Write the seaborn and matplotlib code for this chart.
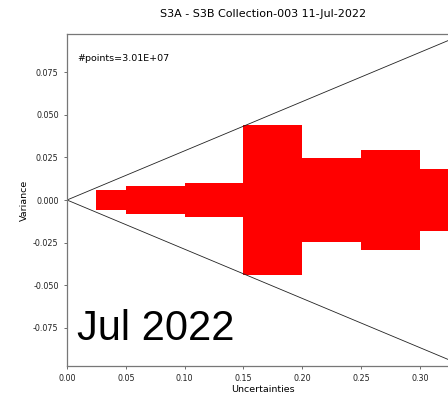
import numpy as np
import pandas as pd
import matplotlib
matplotlib.use("Agg")
import matplotlib.pyplot as plt
import seaborn as sns

# bins of uncertainty and the half-spread of variance in each bin
bin_left = [0.025, 0.05, 0.10, 0.15, 0.20, 0.25, 0.30]
bin_width = [0.025, 0.05, 0.05, 0.05, 0.05, 0.05, 0.05]
half_spread = [0.0056, 0.0080, 0.0102, 0.0440, 0.0247, 0.0296, 0.0181]

# envelope lines +/- x / sqrt(12)
env_x = [0.0, 0.35]
env_slope = 0.2887

title = "S3A - S3B Collection-003 11-Jul-2022"
npoints_label = "#points=3.01E+07"
month_label = "Jul 2022"

sns.set_style("ticks")
plt.rcParams.update({"text.color": "black", "axes.labelcolor": "black",
                     "xtick.color": "black", "ytick.color": "black"})

fig = plt.figure(figsize=(4.48, 3.95), dpi=100)
ax = fig.add_axes([0.1496, 0.0734, 0.875, 0.8405])

h = np.array(half_spread)
ax.bar(bin_left, 2 * h, width=bin_width, bottom=-h, align="edge",
       color="red", edgecolor="none", linewidth=0)

env = pd.DataFrame({"x": env_x, "up": [env_slope * v for v in env_x]})
env["down"] = -env["up"]
sns.lineplot(data=env, x="x", y="up", ax=ax, color="#222222", linewidth=0.6)
sns.lineplot(data=env, x="x", y="down", ax=ax, color="#222222", linewidth=0.6)

ax.set_xlim(0, 0.3333)
ax.set_ylim(-0.0974, 0.0974)
ax.set_xticks([0.0, 0.05, 0.10, 0.15, 0.20, 0.25, 0.30])
ax.set_yticks([-0.075, -0.05, -0.025, 0.0, 0.025, 0.05, 0.075])
ax.xaxis.set_major_formatter(matplotlib.ticker.FormatStrFormatter("%.2f"))
ax.yaxis.set_major_formatter(matplotlib.ticker.FormatStrFormatter("%.3f"))
ax.tick_params(labelsize=5.8, length=2.5, width=0.6, color="#555555",
               labelcolor="#222222")
for s in ax.spines.values():
    s.set_color("#777777")
    s.set_linewidth(0.9)

ax.set_xlabel("Uncertainties", fontsize=6.8, labelpad=1)
ax.set_ylabel("Variance", fontsize=6.8, labelpad=3)
ax.set_title(title, fontsize=8, pad=12)

ax.text(0.025, 0.925, npoints_label, transform=ax.transAxes, fontsize=6.8,
        va="center", ha="left")
ax.text(0.025, 0.11, month_label, transform=ax.transAxes, fontsize=30,
        family="Liberation Sans", va="center", ha="left", color="black")

fig.savefig("out.png", dpi=100)
